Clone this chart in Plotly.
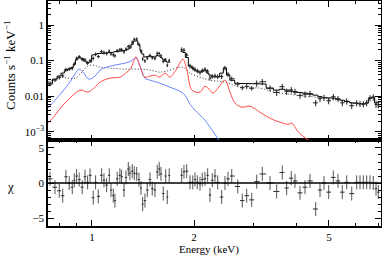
import numpy as np
import plotly.graph_objects as go

# ---------------- data ----------------
energy = [0.752,0.778,0.801,0.820,0.838,0.857,0.875,0.887,0.901,0.917,
          0.936,0.954,0.971,0.987,1.009,1.025,1.044,1.068,1.085,1.105,
          1.125,1.138,1.156,1.169,1.187,1.209,1.223,1.243,1.260,1.280,
          1.294,1.315,1.333,1.355,1.376,1.395,1.411,1.433,1.456,1.483,
          1.506,1.534,1.558,1.579,1.598,1.623,1.650,1.668,1.690,
          1.839,1.868,1.903,1.946,1.983,2.013,2.045,2.083,2.115,2.154,2.194,
          2.229,2.264,2.306,2.349,2.413,2.468,2.519,2.584,2.691,2.776,2.860,2.959,
          3.061,3.180,3.351,3.506,3.642,3.752,3.871,3.970,4.108,4.249,
          4.396,4.570,4.705,4.835,4.991,5.150,5.317,5.475,5.640,5.836,
          6.037,6.174,6.314,6.461,6.608,6.757,6.883,6.990]

model = [0.022,0.030,0.037,0.0445,0.052,0.058,0.064,0.078,0.106,0.123,
         0.115,0.097,0.085,0.091,0.143,0.150,0.158,0.163,0.163,0.163,
         0.167,0.170,0.173,0.177,0.180,0.185,0.188,0.193,0.197,0.210,
         0.225,0.286,0.352,0.360,0.277,0.195,0.153,0.126,0.130,0.134,
         0.130,0.126,0.140,0.134,0.123,0.110,0.097,0.091,0.091,
         0.185,0.169,0.122,0.070,0.062,0.054,0.051,0.047,0.050,0.054,0.045,
         0.039,0.035,0.034,0.035,0.0445,0.062,0.039,0.028,0.023,0.023,0.023,0.022,
         0.0225,0.022,0.0168,0.0148,0.0157,0.0148,0.0138,0.0130,0.0126,0.0122,
         0.0114,0.0107,0.0097,0.0091,0.0088,0.0088,0.0082,0.0077,0.0071,0.0066,
         0.0063,0.0061,0.0060,0.0064,0.0088,0.0094,0.0064,0.0068]

counts = [0.0232,0.0284,0.0333,0.0373,0.0562,0.058,0.0605,0.0808,0.1155,0.1285,
          0.1088,0.1049,0.0858,0.100,0.116,0.151,0.131,0.179,0.169,0.159,
          0.184,0.155,0.145,0.137,0.190,0.203,0.203,0.176,0.211,0.248,
          0.253,0.330,0.396,0.402,0.289,0.183,0.112,0.0977,0.118,0.140,
          0.121,0.115,0.160,0.158,0.137,0.095,0.106,0.0746,0.100,
          0.205,0.196,0.143,0.0707,0.0626,0.0567,0.0515,0.0465,0.0525,0.0572,0.050,
          0.0324,0.0364,0.0374,0.0354,0.0356,0.062,0.0413,0.0308,0.0219,0.0173,0.0189,0.0167,
          0.0230,0.0254,0.0168,0.0127,0.0185,0.0136,0.0150,0.0135,0.0105,0.0113,
          0.0118,0.0065,0.0085,0.0091,0.0074,0.0096,0.0085,0.0065,0.0072,0.0054,
          0.0064,0.0062,0.0061,0.0065,0.0089,0.0094,0.0058,0.0057]

chi = [0.6,-0.6,-1.1,-1.8,0.9,0.0,-0.6,0.4,1.0,0.5,
       -0.6,0.9,0.1,1.1,-2.1,0.1,-1.9,1.1,0.4,-0.3,
       1.1,-1.0,-1.8,-2.5,0.6,1.1,0.9,-1.0,0.8,2.0,
       1.4,1.7,1.4,1.3,0.5,-0.7,-3.0,-2.5,-1.0,0.5,
       -0.8,-1.0,1.6,2.0,1.3,-1.5,1.0,-2.0,1.1,
       1.1,1.6,1.7,0.1,0.1,0.5,0.1,-0.1,0.5,0.6,1.1,
       -1.7,0.4,1.0,0.1,-2.0,0.0,0.6,1.0,-0.5,-2.5,-1.8,-2.4,
       0.2,1.3,0.0,-1.2,1.5,-0.7,0.7,0.3,-1.4,-0.6,
       0.3,-3.7,-1.0,0.0,-1.3,0.8,0.3,-1.3,0.1,-1.5,
       0.1,0.1,0.1,0.1,0.1,0.0,-0.8,-1.3]

rel_err = [0.12] * 49 + [0.15] * 23 + [0.2] * 28

blue_e = [0.742,0.778,0.816,0.861,0.891,0.916,0.941,0.980,1.021,1.056,
          1.107,1.169,1.251,1.304,1.348,1.386,1.433,1.483,1.587,1.698,
          1.818,1.880,1.946,2.013,2.083,2.154,2.229,2.306,2.367]
blue_v = [0.00459,0.0077,0.013,0.0248,0.0417,0.0576,0.0474,0.0301,0.0366,0.054,
          0.0656,0.0747,0.085,0.0968,0.118,0.070,0.0321,0.0282,0.0232,0.0179,
          0.0138,0.0107,0.0060,0.00403,0.00292,0.00211,0.00134,0.00085,0.00058]

red_e = [0.742,0.778,0.816,0.861,0.909,0.934,0.973,1.021,1.056,1.130,
         1.209,1.268,1.303,1.348,1.386,1.433,1.483,1.534,1.587,1.642,
         1.698,1.769,1.855,1.906,1.972,2.083,2.154,2.214,2.275,2.353,
         2.468,2.553,2.642,2.770,2.925,3.130,3.351,3.586,3.787,3.890,
         4.024,4.192,4.396]
red_v = [0.00173,0.00292,0.00523,0.0088,0.0138,0.0148,0.0130,0.0179,0.0248,0.0321,
         0.0343,0.0474,0.0615,0.126,0.070,0.0343,0.0366,0.039,0.0343,0.0445,
         0.0343,0.054,0.110,0.054,0.0148,0.0130,0.0191,0.0157,0.0122,0.0168,
         0.0282,0.0130,0.0064,0.0049,0.00523,0.00354,0.0024,0.00185,0.00163,0.00173,
         0.0011,0.00075,0.00054]

dot_e = [0.742,0.778,0.805,0.850,0.891,0.934,0.973,1.007,1.056,1.130,
         1.251,1.386,1.483,1.587,1.698,1.818,1.880,1.946,2.083,2.229,
         2.468,2.733,3.130,3.467,3.838,4.108,4.705,5.390,6.174,6.430,
         6.608,6.790,6.980,7.120]
dot_v = [0.0248,0.0301,0.0343,0.0321,0.0321,0.0474,0.070,0.0747,0.0656,0.0615,
         0.0576,0.0576,0.054,0.0474,0.054,0.0656,0.0615,0.0445,0.0343,0.0282,
         0.0248,0.0179,0.0168,0.013,0.0114,0.0103,0.0091,0.0075,0.0058,0.0060,
         0.0082,0.0088,0.0064,0.0068]

# ---------------- bin edges ----------------
E = np.array(energy)
n = len(E)
lo = np.empty(n)
hi = np.empty(n)
for i in range(n):
    lr = E[i] / E[i - 1] if i > 0 else None
    rr = E[i + 1] / E[i] if i < n - 1 else None
    if lr is None or lr > 1.06:
        lr = rr
    if rr is None or rr > 1.06:
        rr = lr
    lo[i] = E[i] / np.sqrt(lr)
    hi[i] = E[i] * np.sqrt(rr)

step_x, step_y = [], []
for i in range(n):
    if i > 0 and E[i] / E[i - 1] > 1.06:
        step_x.append(None)
        step_y.append(None)
    step_x += [lo[i], hi[i]]
    step_y += [model[i], model[i]]

cnt = np.array(counts)
yerr = cnt * np.array(rel_err)

FONT = "Liberation Serif"
fig = go.Figure()

# top panel
fig.add_trace(go.Scatter(x=dot_e, y=dot_v, mode="lines", line=dict(color="#333", width=1, dash="1px,2px"),
                         xaxis="x2", yaxis="y2", line_shape="spline"))
fig.add_trace(go.Scatter(x=blue_e, y=blue_v, mode="lines", line=dict(color="#6a84ff", width=1),
                         xaxis="x2", yaxis="y2", line_shape="spline"))
fig.add_trace(go.Scatter(x=red_e, y=red_v, mode="lines", line=dict(color="#ff4a4a", width=1),
                         xaxis="x2", yaxis="y2", line_shape="spline"))
fig.add_trace(go.Scatter(x=step_x, y=step_y, mode="lines", line=dict(color="black", width=1),
                         xaxis="x2", yaxis="y2", connectgaps=False))
fig.add_trace(go.Scatter(x=energy, y=counts, mode="markers", marker=dict(size=1, color="#222"),
                         error_x=dict(type="data", symmetric=False, array=list(hi - E), arrayminus=list(E - lo),
                                      color="#222", thickness=1, width=0),
                         error_y=dict(type="data", array=list(yerr), color="#222", thickness=1, width=0),
                         xaxis="x2", yaxis="y2"))

# bottom panel
fig.add_trace(go.Scatter(x=energy, y=chi, mode="markers", marker=dict(size=1, color="#333"),
                         error_x=dict(type="data", symmetric=False, array=list(hi - E), arrayminus=list(E - lo),
                                      color="#333", thickness=1, width=0),
                         error_y=dict(type="data", array=[1.0] * n, color="#555", thickness=1, width=0),
                         xaxis="x", yaxis="y"))

xr = [np.log10(0.742), np.log10(7.12)]
ax_common = dict(showline=True, linecolor="black", linewidth=1.5, mirror="allticks", ticks="inside",
                 tickcolor="black", tickwidth=1.2, showgrid=False, zeroline=False, automargin=False)
split = 0.381

ymin = []
for k in range(-4, 1):
    for m in range(2, 10):
        ymin.append(m * 10.0 ** k)

PH = 257 - 1 - 31  # plot height in px
def py(pix):
    """paper y coordinate from a pixel row"""
    return (256 - 31 - pix + 1) / PH

minor_x = dict(tickvals=[0.8, 0.9, 3, 4, 6, 7], ticks="inside", ticklen=3, tickcolor="black", tickwidth=1.2)

fig.update_layout(
    width=382, height=257,
    margin=dict(l=48, r=1, t=1, b=31, autoexpand=False),
    paper_bgcolor="white", plot_bgcolor="white",
    showlegend=False,
    font=dict(family=FONT, size=11, color="black"),
    xaxis=dict(type="log", range=xr, anchor="y", domain=[0, 1], tickvals=[1, 2, 5], ticktext=["1", "2", "5"],
               ticklen=6, minor=minor_x, tickfont=dict(family=FONT, size=11), **ax_common),
    yaxis=dict(range=[-6.13, 6.1], domain=[0, split], anchor="x", tickvals=[-5, 0, 5], ticktext=["−5", "0", "5"],
               ticklen=6, minor=dict(tickvals=list(range(-6, 7)), ticks="inside", ticklen=3, tickcolor="black",
                                     tickwidth=1.2),
               tickfont=dict(family=FONT, size=11), **ax_common),
    xaxis2=dict(type="log", range=xr, anchor="y2", domain=[0, 1], matches="x", tickvals=[1, 2, 5],
                showticklabels=False, ticklen=6, minor=minor_x, **ax_common),
    yaxis2=dict(type="log", range=[-3.24, 0.676], domain=[split, 1], anchor="x2",
                tickvals=[0.001, 0.01, 0.1, 1], ticktext=["10<sup>−3</sup>", "0.01", "0.1", "1"],
                ticklen=6, minor=dict(tickvals=ymin, ticks="inside", ticklen=3, tickcolor="black", tickwidth=1.2),
                tickfont=dict(family=FONT, size=11), **ax_common),
    shapes=[dict(type="line", xref="x domain", x0=0, x1=1, yref="y", y0=0, y1=0,
                 line=dict(color="black", width=1.5))],
    annotations=[
        dict(text="Counts s<sup>−1</sup> keV<sup>−1</sup>", xref="paper", yref="paper",
             x=(10 - 48) / 333, y=py(66), textangle=-90, showarrow=False,
             font=dict(family=FONT, size=13), xanchor="center", yanchor="middle"),
        dict(text="χ", xref="paper", yref="paper", x=(10 - 48) / 333, y=py(186),
             showarrow=False, font=dict(family=FONT, size=13), xanchor="center", yanchor="middle"),
        dict(text="Energy (keV)", xref="paper", yref="paper", x=(209 - 48) / 333, y=py(249),
             showarrow=False, font=dict(family=FONT, size=11), xanchor="center", yanchor="middle"),
    ],
)

fig.write_html("out.html", config={"displayModeBar": False},
               post_script="document.body.style.margin='0';document.body.style.overflow='hidden';")
